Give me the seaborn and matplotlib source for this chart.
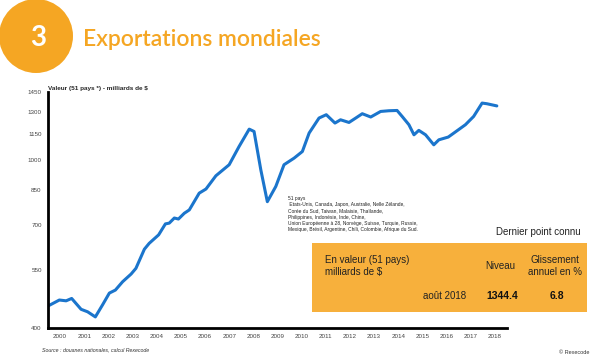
import matplotlib
matplotlib.use("Agg")
import matplotlib.pyplot as plt
import matplotlib.ticker as mticker
from matplotlib.patches import Ellipse, Rectangle
import pandas as pd
import seaborn as sns

# world exports, 51 countries, bn $
dates = [2000.0, 2000.47, 2000.75, 2000.98, 2001.37, 2001.64, 2001.96, 2002.26, 2002.54,
         2002.79, 2003.09, 2003.44, 2003.64, 2003.99, 2004.19, 2004.58, 2004.86, 2005.02,
         2005.23, 2005.40, 2005.64, 2005.85, 2006.26, 2006.54, 2006.95, 2007.50, 2007.91,
         2008.33, 2008.53, 2008.81, 2009.08, 2009.43, 2009.77, 2010.19, 2010.53, 2010.81,
         2011.22, 2011.52, 2011.88, 2012.11, 2012.46, 2012.74, 2013.01, 2013.36, 2013.77,
         2014.11, 2014.45, 2014.66, 2014.94, 2015.15, 2015.35, 2015.63, 2015.97, 2016.18,
         2016.57, 2016.99, 2017.28, 2017.62, 2017.97, 2018.17, 2018.58]
values = [451, 466, 464, 470, 443, 437, 425, 454, 484,
          492, 515, 537, 554, 615, 635, 665, 706, 709,
          729, 725, 748, 762, 835, 854, 918, 975, 1077,
          1184, 1169, 948, 797, 866, 975, 1011, 1048, 1159,
          1258, 1281, 1224, 1246, 1228, 1258, 1288, 1265, 1304,
          1309, 1311, 1269, 1213, 1148, 1176, 1148, 1087, 1117,
          1134, 1180, 1213, 1269, 1365, 1360, 1344]

yticks = [400, 550, 700, 850, 1000, 1150, 1300, 1450]
years = list(range(2000, 2019))

notes = ("51 pays\n"
         " Etats-Unis, Canada, Japon, Australie, Nelle Zélande,\n"
         "Corée du Sud, Taiwan, Malaisie, Thaïlande,\n"
         "Philippines, Indonésie, Inde, Chine,\n"
         "Union Européenne à 28, Norvège, Suisse, Turquie, Russie,\n"
         "Mexique, Brésil, Argentine, Chili, Colombie, Afrique du Sud.")

df = pd.DataFrame({"date": dates, "valeur": values})

sns.set_style("white")
plt.rcParams["font.family"] = ["Liberation Sans", "DejaVu Sans"]

orange = "#F5A623"
blue = "#1B75CC"

fig = plt.figure(figsize=(5.94, 3.57), dpi=100)
ax = fig.add_axes([0.0808, 0.0812, 0.7727, 0.6611])

sns.lineplot(data=df, x="date", y="valeur", color=blue, linewidth=2.2, ax=ax)

ax.set_yscale("log")
ax.set_ylim(400, 1450)
ax.yaxis.set_major_locator(mticker.FixedLocator(yticks))
ax.yaxis.set_major_formatter(mticker.FixedFormatter([str(v) for v in yticks]))
ax.yaxis.set_minor_locator(mticker.NullLocator())
ax.tick_params(axis="y", which="major", direction="inout", length=5, width=0.8,
               labelsize=4.5, labelcolor="#444444", pad=2)

ax.set_xlim(2000, 2019)
ax.xaxis.set_major_locator(mticker.FixedLocator(list(range(2000, 2020))))
ax.xaxis.set_major_formatter(mticker.NullFormatter())
ax.xaxis.set_minor_locator(mticker.FixedLocator([y + 0.5 for y in years]))
ax.xaxis.set_minor_formatter(mticker.FixedFormatter([str(y) for y in years]))
ax.tick_params(axis="x", which="major", direction="out", length=9, width=0.8, color="#333333")
ax.tick_params(axis="x", which="minor", length=0, labelsize=4.5, labelcolor="#444444", pad=4)

for s in ["top", "right"]:
    ax.spines[s].set_visible(False)
for s in ["left", "bottom"]:
    ax.spines[s].set_color("black")
    ax.spines[s].set_linewidth(2)
ax.set_xlabel("")
ax.set_ylabel("")

ax.text(0, 1.005, "Valeur (51 pays *) - milliards de $", transform=ax.transAxes,
        fontsize=4.6, fontweight="bold", ha="left", va="bottom")

# header
fig.add_artist(Ellipse((36 / 594, 1 - 36 / 357), 74 / 594, 74 / 357,
                       transform=fig.transFigure, color=orange, lw=0))
fig.text(38 / 594, 1 - 38 / 357, "3", color="white", fontsize=20, fontweight="bold",
         ha="center", va="center", family="Lato")
fig.text(83 / 594, 1 - 39 / 357, "Exportations mondiales", color=orange, fontsize=16.5,
         fontweight="semibold", ha="left", va="center", family="Lato")

# country list
fig.text(288 / 594, 1 - 196 / 357, notes, fontsize=3.5, ha="left", va="top",
         linespacing=1.3, color="#222222")

# last known point box
fig.text(581 / 594, 1 - 232 / 357, "Dernier point connu", fontsize=7, ha="right",
         va="center", color="#222222")
fig.add_artist(Rectangle((312 / 594, 1 - 312 / 357), 275 / 594, 69 / 357,
                         transform=fig.transFigure, color="#F7B03C", lw=0))
fig.text(325 / 594, 1 - 266 / 357, "En valeur (51 pays)\nmilliards de $", fontsize=7,
         ha="left", va="center", linespacing=1.2, color="#222222")
fig.text(500 / 594, 1 - 266 / 357, "Niveau", fontsize=7, ha="center", va="center",
         color="#222222")
fig.text(555 / 594, 1 - 266 / 357, "Glissement\nannuel en %", fontsize=7, ha="center",
         va="center", linespacing=1.2, color="#222222")
fig.text(445 / 594, 1 - 296 / 357, "août 2018", fontsize=7, ha="center", va="center",
         color="#222222")
fig.text(502 / 594, 1 - 296 / 357, "1344.4", fontsize=7.5, fontweight="bold",
         ha="center", va="center", color="#111111")
fig.text(557 / 594, 1 - 296 / 357, "6.8", fontsize=7.5, fontweight="bold",
         ha="center", va="center", color="#111111")

# footer
fig.text(42 / 594, 1 - 350 / 357, "Source : douanes nationales, calcul Rexecode",
         fontsize=3.8, style="italic", ha="left", va="center", color="#333333")
fig.text(589 / 594, 1 - 353 / 357, "© Rexecode", fontsize=4, ha="right", va="center",
         color="#333333")

fig.savefig("out.png", dpi=100)
